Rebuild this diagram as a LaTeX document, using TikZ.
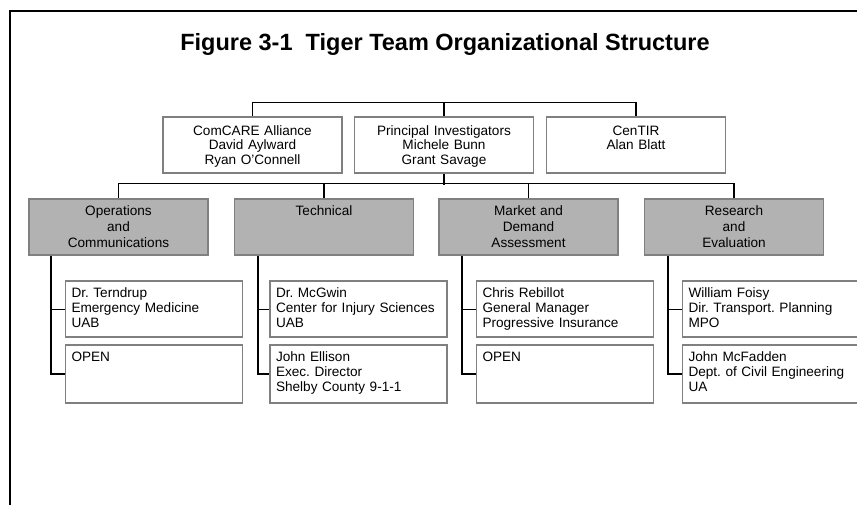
\documentclass[tikz,border=0pt]{standalone}
\usepackage{fontspec}
\setmainfont{Liberation Sans}
\frenchspacing
\definecolor{boxgray}{RGB}{128,128,128}
\definecolor{teamgray}{RGB}{178,178,178}

\begin{document}
\begin{tikzpicture}[x=1pt,y=-1pt]
    \tikzstyle{board}=[draw=boxgray, line width=1.6pt, text width=167pt, inner xsep=6pt, inner ysep=5pt, align=center, font=\fontsize{13.6}{14.5}\selectfont, text height=13pt, text depth=33pt]
    \tikzstyle{team}=[board, fill=teamgray, font=\fontsize{13.6}{16}\selectfont, text height=11pt, text depth=35pt]
    \tikzstyle{member}=[board, text width=165pt, align=left, font=\fontsize{13.6}{15}\selectfont, text height=11pt, text depth=35pt]
    \tikzstyle{bus}=[line width=1.2pt]
    \tikzstyle{stem}=[line width=2pt]
    \tikzstyle{twig}=[line width=0.9pt]

    \useasboundingbox (0,0) rectangle (857,504);
    \clip (0,0) rectangle (857,504);
    \draw[line width=2pt] (10,530) -- (10,11) -- (880,11);

    \node[anchor=base, font=\bfseries\fontsize{23.5}{26}\selectfont] at (445,50) (title) {Figure 3-1\ \ Tiger Team Organizational Structure};

    \node[board] at (252.5,145) (comcare) {ComCARE Alliance\\David Aylward\\Ryan O'Connell};
    \node[board] at (444,145) (pi) {Principal Investigators\\Michele Bunn\\Grant Savage};
    \node[board] at (636,145) (centir) {CenTIR\\Alan Blatt};

    \node[team] at (118.5,227) (ops) {Operations\\and\\Communications};
    \node[team] at (324,227) (tech) {Technical};
    \node[team] at (528.5,227) (market) {Market and\\Demand\\Assessment};
    \node[team] at (734,227) (research) {Research\\and\\Evaluation};

    \node[member] at (154,309) (opsa) {Dr. Terndrup\\Emergency Medicine\\UAB};
    \node[member, text depth=37pt] at (154,374) (opsb) {OPEN};
    \node[member] at (358.5,309) (techa) {Dr. McGwin\\Center for Injury Sciences\\UAB};
    \node[member, text depth=37pt] at (358.5,374) (techb) {John Ellison\\Exec. Director\\Shelby County 9-1-1};
    \node[member] at (565,309) (marketa) {Chris Rebillot\\General Manager\\Progressive Insurance};
    \node[member, text depth=37pt] at (565,374) (marketb) {OPEN};
    \node[member] at (771,309) (researcha) {William Foisy\\Dir. Transport. Planning\\MPO};
    \node[member, text depth=37pt] at (771,374) (researchb) {John McFadden\\Dept. of Civil Engineering\\UA};

    % top row
    \draw[bus] (comcare.north) -- ++(0,-14) -| (centir.north);
    \draw[bus] (pi.north) -- ++(0,-14);

    % teams
    \draw[stem] (pi.south) -- ++(0,11);
    \draw[bus] (ops.north) -- ++(0,-15) -| (research.north);
    \draw[bus] (tech.north) -- ++(0,-15);
    \draw[bus] (market.north) -- ++(0,-15);

    % members
    \draw[stem] ([xshift=-14pt]opsb.west |- ops.south) -- ([xshift=-14pt]opsb.west) -- (opsb.west);
    \draw[twig] (opsa.west) -- ++(-14,0);
    \draw[stem] ([xshift=-11pt]techb.west |- tech.south) -- ([xshift=-11pt]techb.west) -- (techb.west);
    \draw[twig] (techa.west) -- ++(-11,0);
    \draw[stem] ([xshift=-14pt]marketb.west |- market.south) -- ([xshift=-14pt]marketb.west) -- (marketb.west);
    \draw[twig] (marketa.west) -- ++(-14,0);
    \draw[stem] ([xshift=-14pt]researchb.west |- research.south) -- ([xshift=-14pt]researchb.west) -- (researchb.west);
    \draw[twig] (researcha.west) -- ++(-14,0);
\end{tikzpicture}
\end{document}
